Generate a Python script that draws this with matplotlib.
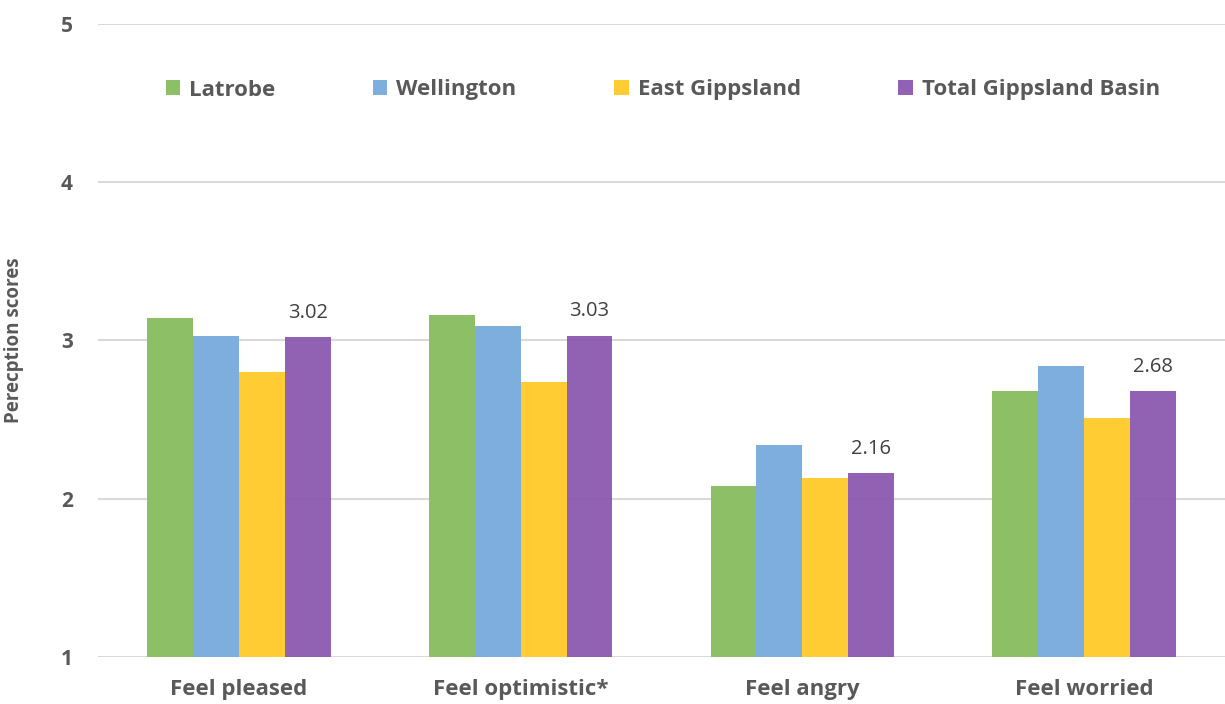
import numpy as np
import matplotlib.pyplot as plt

plt.rcParams['font.family'] = ['Open Sans', 'DejaVu Sans']

categories = ["Feel pleased", "Feel optimistic*", "Feel angry", "Feel worried"]
series_names = ["Latrobe", "Wellington", "East Gippsland", "Total Gippsland Basin"]
latrobe = [3.14, 3.16, 2.08, 2.68]
wellington = [3.03, 3.09, 2.34, 2.84]
east_gippsland = [2.80, 2.74, 2.13, 2.51]
total_basin = [3.02, 3.03, 2.16, 2.68]
yticks = [1, 2, 3, 4, 5]

colors = ["#8DC066", "#7DAEDD", "#FFCC33", "#8B5AB0"]
text_grey = "#595959"

fig = plt.figure(figsize=(12.25, 7.04), dpi=100)
ax = fig.add_axes([0.08, 0.067, 0.92, 0.899])

x = np.arange(len(categories))
width = 0.163
all_series = [latrobe, wellington, east_gippsland, total_basin]
bars = []
for i, (vals, name, c) in enumerate(zip(all_series, series_names, colors)):
    b = ax.bar(x + (i - 1.5) * width, np.array(vals) - 1, width, bottom=1,
               color=c, label=name, zorder=2, alpha=0.95 if i == 3 else 1.0)
    bars.append(b)

# Werte nur für die Gesamtreihe
for xi, v in zip(x + 1.5 * width, total_basin):
    ax.text(xi, v + 0.09, f"{v:.2f}", ha='center', va='bottom',
            fontsize=14.5, color="#404040")

ax.set_ylim(1, 5)
ax.set_xlim(-0.5, len(categories) - 0.5)
ax.set_yticks(yticks)
ax.set_yticklabels([str(t) for t in yticks], fontsize=15, fontweight='bold', color=text_grey)
ax.set_xticks(x)
ax.set_xticklabels(categories, fontsize=16, fontweight='bold', color=text_grey)
ax.tick_params(axis='both', length=0)
ax.tick_params(axis='y', pad=18)
ax.tick_params(axis='x', pad=16)
ax.yaxis.grid(True, color="#D9D9D9", linewidth=1.5, zorder=0)
ax.set_axisbelow(True)
for s in ax.spines.values():
    s.set_visible(False)

ax.set_ylabel("Perecption scores", fontsize=13.5, fontweight='bold', color=text_grey)
ax.yaxis.set_label_coords(-0.066, 0.5)

leg = fig.legend(handles=bars, labels=series_names, loc='center', ncol=4,
                 bbox_to_anchor=(0.541, 1 - 90 / 704), frameon=False,
                 fontsize=16, handlelength=0.65, handleheight=0.65,
                 columnspacing=4.4, handletextpad=0.4)
for t in leg.get_texts():
    t.set_color(text_grey)
    t.set_fontweight('bold')

fig.savefig("out.png", dpi=100)
